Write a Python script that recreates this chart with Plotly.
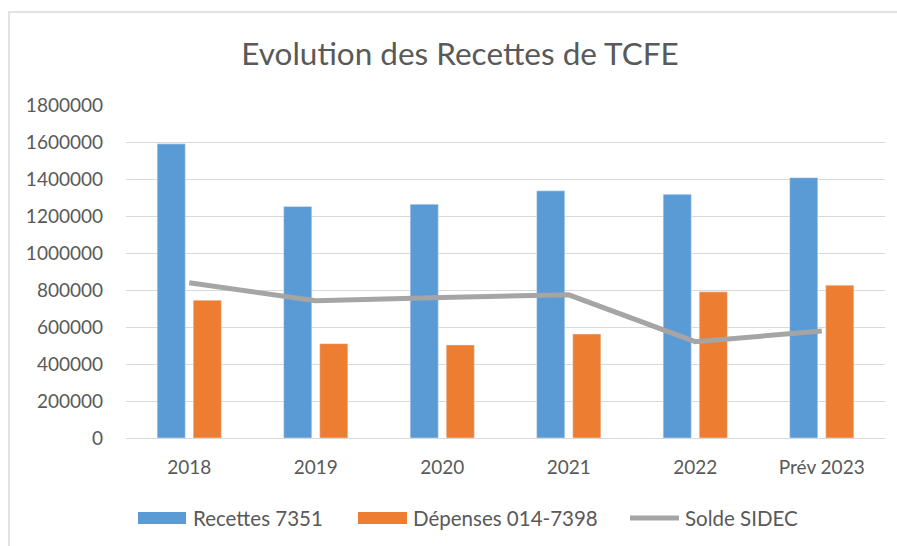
import plotly.graph_objects as go

categories = ["2018", "2019", "2020", "2021", "2022", "Prév 2023"]
recettes = [1590000, 1252000, 1264000, 1336000, 1317000, 1407000]
depenses = [745000, 510000, 503000, 562000, 790000, 826000]
solde = [839000, 742000, 760000, 774000, 521000, 578000]
y_ticks = [0, 200000, 400000, 600000, 800000, 1000000, 1200000, 1400000, 1600000, 1800000]

BLUE = "#5B9BD5"
ORANGE = "#ED7D31"
GREY = "#A5A5A5"
TXT = "#595959"
FONT = "Lato"

W, H = 897, 546
L, R, T, B = 126, 12, 105, 108
pw, ph = W - L - R, H - T - B

def px(x):
    return (x - L) / pw

def py(y):
    return (H - B - y) / ph

fig = go.Figure()
fig.add_bar(x=categories, y=recettes, name="Recettes 7351", marker_color=BLUE, showlegend=False)
fig.add_bar(x=categories, y=depenses, name="Dépenses 014-7398", marker_color=ORANGE, showlegend=False)
fig.add_scatter(x=categories, y=solde, name="Solde SIDEC", mode="lines",
                line=dict(color=GREY, width=5), showlegend=False)

shapes = [
    # chart border
    dict(type="rect", xref="paper", yref="paper", x0=px(9), x1=px(902), y0=py(551), y1=py(12),
         line=dict(color="#D9D9D9", width=1.5), fillcolor="rgba(0,0,0,0)", layer="below"),
    # legend swatches
    dict(type="rect", xref="paper", yref="paper", x0=px(138), x1=px(186), y0=py(524), y1=py(512),
         line=dict(width=0), fillcolor=BLUE),
    dict(type="rect", xref="paper", yref="paper", x0=px(358), x1=px(407), y0=py(524), y1=py(512),
         line=dict(width=0), fillcolor=ORANGE),
    dict(type="line", xref="paper", yref="paper", x0=px(630), x1=px(679), y0=py(518), y1=py(518),
         line=dict(width=5, color=GREY)),
]
annotations = [
    dict(text="Recettes 7351", xref="paper", yref="paper", x=px(191), y=py(518), xanchor="left",
         yanchor="middle", showarrow=False, font=dict(family=FONT, size=20.5, color=TXT)),
    dict(text="Dépenses 014-7398", xref="paper", yref="paper", x=px(411), y=py(518), xanchor="left",
         yanchor="middle", showarrow=False, font=dict(family=FONT, size=20.5, color=TXT)),
    dict(text="Solde SIDEC", xref="paper", yref="paper", x=px(683), y=py(518), xanchor="left",
         yanchor="middle", showarrow=False, font=dict(family=FONT, size=20.5, color=TXT)),
]

fig.update_layout(
    width=W, height=H,
    margin=dict(l=L, r=R, t=T, b=B),
    paper_bgcolor="white", plot_bgcolor="white",
    title=dict(text="Evolution des Recettes de TCFE", x=460 / W, xanchor="center",
               y=1 - 54 / H, yanchor="middle", font=dict(family=FONT, size=31.5, color=TXT)),
    barmode="group", bargap=0.43, bargroupgap=0.22,
    shapes=shapes, annotations=annotations,
    font=dict(family=FONT, color=TXT),
)
fig.update_xaxes(showgrid=False, showline=False, ticks="", tickfont=dict(family=FONT, size=19, color=TXT),
                 ticklabelstandoff=16)
fig.update_yaxes(range=[0, 1800000], tickvals=y_ticks, ticktext=[str(v) for v in y_ticks],
                 showgrid=True, gridcolor="#D9D9D9", gridwidth=1.3, zeroline=True,
                 zerolinecolor="#D9D9D9", zerolinewidth=1.3, showline=False,
                 tickfont=dict(family=FONT, size=19, color=TXT), ticklabelstandoff=22)

fig.write_html("out.html", config={"displayModeBar": False},
               post_script="document.body.style.margin='0';document.body.style.overflow='hidden';")
